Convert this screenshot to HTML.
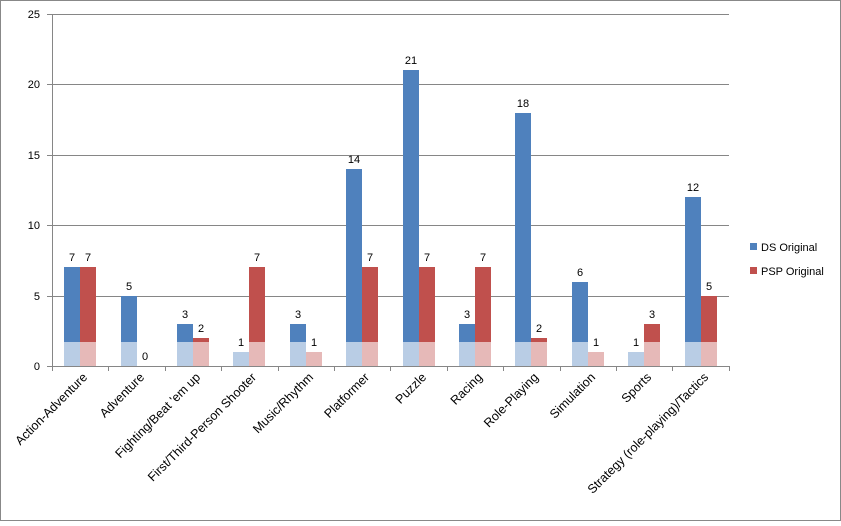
<!DOCTYPE html>
<html><head><style>
body{margin:0;background:#fff}
svg text{font-family:"Liberation Sans",sans-serif;font-size:11px;fill:#000}
svg .cl text{font-size:12.5px}
</style></head><body>
<svg width="841" height="521" xmlns="http://www.w3.org/2000/svg">
<rect x="0.5" y="0.5" width="840" height="520" fill="#fff" stroke="#888"/>
<g stroke="#868686" stroke-width="1">
<line x1="47" y1="14.5" x2="729" y2="14.5"/>
<line x1="47" y1="84.5" x2="729" y2="84.5"/>
<line x1="47" y1="155.5" x2="729" y2="155.5"/>
<line x1="47" y1="225.5" x2="729" y2="225.5"/>
<line x1="47" y1="296.5" x2="729" y2="296.5"/>
<line x1="47" y1="366.5" x2="729" y2="366.5"/>
<line x1="52.5" y1="14" x2="52.5" y2="371"/>
<line x1="108.5" y1="366" x2="108.5" y2="371"/><line x1="165.5" y1="366" x2="165.5" y2="371"/>
<line x1="221.5" y1="366" x2="221.5" y2="371"/><line x1="278.5" y1="366" x2="278.5" y2="371"/>
<line x1="334.5" y1="366" x2="334.5" y2="371"/><line x1="390.5" y1="366" x2="390.5" y2="371"/>
<line x1="447.5" y1="366" x2="447.5" y2="371"/><line x1="503.5" y1="366" x2="503.5" y2="371"/>
<line x1="560.5" y1="366" x2="560.5" y2="371"/><line x1="616.5" y1="366" x2="616.5" y2="371"/>
<line x1="672.5" y1="366" x2="672.5" y2="371"/><line x1="729.5" y1="366" x2="729.5" y2="371"/>
</g>
<g text-anchor="end">
<text x="40" y="18">25</text><text x="40" y="88">20</text><text x="40" y="159">15</text>
<text x="40" y="229">10</text><text x="40" y="300">5</text><text x="40" y="370" fill="#aaa">0</text>
</g>
<g fill="#4f81bd">
<rect x="64" y="267" width="16" height="75"/>
<rect x="121" y="296" width="16" height="46"/>
<rect x="177" y="324" width="16" height="18"/>
<rect x="290" y="324" width="16" height="18"/>
<rect x="346" y="169" width="16" height="173"/>
<rect x="403" y="70" width="16" height="272"/>
<rect x="459" y="324" width="16" height="18"/>
<rect x="515" y="113" width="16" height="229"/>
<rect x="572" y="282" width="16" height="60"/>
<rect x="685" y="197" width="16" height="145"/>
</g>
<g fill="#b9cde5">
<rect x="64" y="342" width="16" height="24"/>
<rect x="121" y="342" width="16" height="24"/>
<rect x="177" y="342" width="16" height="24"/>
<rect x="233" y="352" width="16" height="14"/>
<rect x="290" y="342" width="16" height="24"/>
<rect x="346" y="342" width="16" height="24"/>
<rect x="403" y="342" width="16" height="24"/>
<rect x="459" y="342" width="16" height="24"/>
<rect x="515" y="342" width="16" height="24"/>
<rect x="572" y="342" width="16" height="24"/>
<rect x="628" y="352" width="16" height="14"/>
<rect x="685" y="342" width="16" height="24"/>
</g>
<g fill="#c0504d">
<rect x="80" y="267" width="16" height="75"/>
<rect x="193" y="338" width="16" height="4"/>
<rect x="249" y="267" width="16" height="75"/>
<rect x="362" y="267" width="16" height="75"/>
<rect x="419" y="267" width="16" height="75"/>
<rect x="475" y="267" width="16" height="75"/>
<rect x="531" y="338" width="16" height="4"/>
<rect x="644" y="324" width="16" height="18"/>
<rect x="701" y="296" width="16" height="46"/>
</g>
<g fill="#e6b9b8">
<rect x="80" y="342" width="16" height="24"/>
<rect x="193" y="342" width="16" height="24"/>
<rect x="249" y="342" width="16" height="24"/>
<rect x="306" y="352" width="16" height="14"/>
<rect x="362" y="342" width="16" height="24"/>
<rect x="419" y="342" width="16" height="24"/>
<rect x="475" y="342" width="16" height="24"/>
<rect x="531" y="342" width="16" height="24"/>
<rect x="588" y="352" width="16" height="14"/>
<rect x="644" y="342" width="16" height="24"/>
<rect x="701" y="342" width="16" height="24"/>
</g>
<g text-anchor="middle">
<text x="72" y="261">7</text><text x="88" y="261">7</text>
<text x="129" y="290">5</text><text x="145" y="360" fill="#aaa">0</text>
<text x="185" y="318">3</text><text x="201" y="332">2</text>
<text x="241" y="346">1</text><text x="257" y="261">7</text>
<text x="298" y="318">3</text><text x="314" y="346">1</text>
<text x="354" y="163">14</text><text x="370" y="261">7</text>
<text x="411" y="64">21</text><text x="427" y="261">7</text>
<text x="467" y="318">3</text><text x="483" y="261">7</text>
<text x="523" y="107">18</text><text x="539" y="332">2</text>
<text x="580" y="276">6</text><text x="596" y="346">1</text>
<text x="636" y="346">1</text><text x="652" y="318">3</text>
<text x="693" y="191">12</text><text x="709" y="290">5</text>
</g>
<g class="cl" text-anchor="end">
<text transform="translate(88,378) rotate(-45)">Action-Adventure</text>
<text transform="translate(145,378) rotate(-45)" fill="#b0b0b0">Adventure</text>
<text transform="translate(201,378) rotate(-45)">Fighting/Beat 'em up</text>
<text transform="translate(257,378) rotate(-45)">First/Third-Person Shooter</text>
<text transform="translate(314,378) rotate(-45)" fill="#b0b0b0">Music/Rhythm</text>
<text transform="translate(370,378) rotate(-45)" fill="#b0b0b0">Platformer</text>
<text transform="translate(427,378) rotate(-45)" fill="#b0b0b0">Puzzle</text>
<text transform="translate(483,378) rotate(-45)" fill="#b0b0b0">Racing</text>
<text transform="translate(539,378) rotate(-45)" fill="#b0b0b0">Role-Playing</text>
<text transform="translate(596,378) rotate(-45)" fill="#b0b0b0">Simulation</text>
<text transform="translate(652,378) rotate(-45)" fill="#b0b0b0">Sports</text>
<text transform="translate(709,378) rotate(-45)">Strategy (role-playing)/Tactics</text>
</g>
<rect x="750" y="243" width="7" height="7" fill="#4f81bd"/>
<text x="761" y="251">DS Original</text>
<rect x="750" y="267" width="7" height="7" fill="#c0504d"/>
<text x="761" y="275">PSP Original</text>
</svg>
</body></html>
